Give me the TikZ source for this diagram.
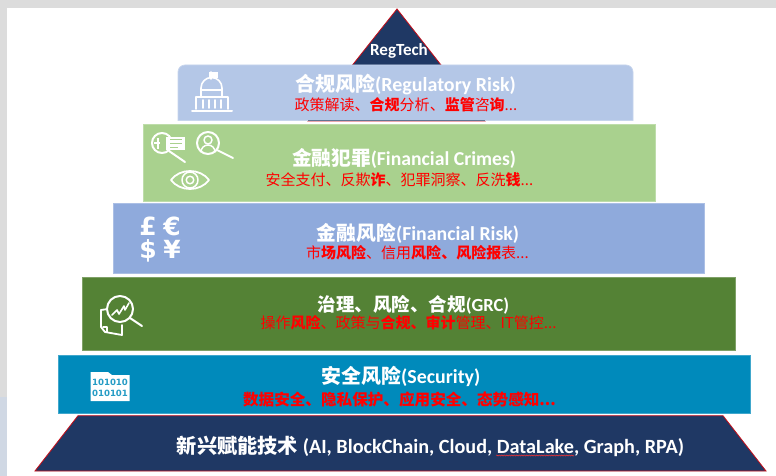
\documentclass[tikz,border=0pt]{standalone}
\usepackage{fontspec}
\usetikzlibrary{decorations.pathmorphing}
\setmainfont{Carlito}
\newfontfamily\zhf{Noto Sans CJK SC}
\newfontfamily\binf{DejaVu Sans}
\newcommand{\zh}[1]{{\zhf #1}}
\newcommand{\zb}[1]{{\zhf\bfseries #1}}
\definecolor{navy}{HTML}{1F3864}
\definecolor{regc}{HTML}{B4C7E7}
\definecolor{crimec}{HTML}{A9D18E}
\definecolor{finc}{HTML}{8FAADC}
\definecolor{grcc}{HTML}{548235}
\definecolor{secc}{HTML}{008ABB}
\definecolor{gstrip}{HTML}{DCDCDC}
\definecolor{bstrip}{HTML}{D0D8E4}
\tikzset{
  band/.style={draw=#1!75!white,line width=.7pt,fill=#1},
  head/.style={text=white,font=\fontsize{#1}{#1}\selectfont\bfseries,inner sep=0pt,anchor=center},
  sub/.style={text=red,font=\fontsize{#1}{#1}\selectfont,inner sep=0pt,anchor=center},
  icon/.style={draw=white,line width=1.6pt,line cap=round,line join=round},
  cur/.style={text=white,font=\fontsize{25}{25}\selectfont\binf\bfseries,inner sep=0pt,text height=17pt,text depth=1pt},
  bin/.style={text=secc!85!white,font=\fontsize{8.6}{9}\selectfont\binf\bfseries,inner sep=0pt},
}
\begin{document}
\begin{tikzpicture}[x=1pt,y=-1pt]
\useasboundingbox (0,0) rectangle (776,476);
\fill[white] (0,0) rectangle (776,476);
\fill[gstrip] (0,0) rectangle (776,8);
\fill[gstrip] (0,0) rectangle (7,397);
\fill[bstrip] (0,397) rectangle (7,476);
% top triangle
\draw[fill=navy,draw=red!75!navy,line width=.8pt] (397,9) -- (485,121) -- (308,121) -- cycle;
\node[head=17] (regtech) at (399,51) {RegTech};
% bands
\path[band=regc] (178,120.5) -- (178,72) arc[start angle=180,end angle=270,radius=7] -- (626,65) arc[start angle=270,end angle=360,radius=7] -- (633,120.5) -- cycle;
\draw[navy!70!white,line width=.8pt] (308,120.7) -- (485,120.7);
\path[band=crimec] (143.5,124) rectangle (655,201);
\path[band=finc] (113,203.5) rectangle (704.5,273);
\path[band=grcc] (82,277) rectangle (735.5,350.5);
\path[band=secc] (58,355) rectangle (750,413);
\draw[fill=navy,draw=red!75!navy,line width=.8pt] (78,415.7) -- (723,415.7) -- (766,471) -- (35,471) -- cycle;
% texts
\node[head=20] (r1) at (405.5,85) {\zb{合规风险}(Regulatory Risk)};
\node[sub=15] (r2) at (406,104.5) {\zh{政策解读、}\zb{合规}\zh{分析、}\zb{监管}\zh{咨}\zb{询}\zh{...}};
\node[head=19.7] (c1) at (404,158) {\zb{金融犯罪}(Financial Crimes)};
\node[sub=15] (c2) at (399.5,180) {\zh{安全支付、反欺}\zb{诈}\zh{、犯罪洞察、反洗}\zb{钱}\zh{...}};
\node[head=19.8] (f1) at (418,233) {\zb{金融风险}(Financial Risk)};
\node[sub=15] (f2) at (417.5,253) {\zh{市}\zb{场风险}\zh{、信用}\zb{风险、风险报}\zh{表...}};
\node[head=18.5] (g1) at (413.5,305) {\zb{治理、风险、合规}(GRC)};
\node[sub=15] (g2) at (408.5,323) {\zh{操作}\zb{风险}\zh{、政策与}\zb{合规、审计}\zh{管理、IT管控...}};
\node[head=19.9] (s1) at (401,376) {\zb{安全风险}(Security)};
\node[sub=15.6] (s2) at (399.5,400) {\zb{数据安全、隐私保护、应用安全、态势感知...}};
\node[head=20.2] (t1) at (430.5,446) {\zb{新兴赋能技术} (AI, BlockChain, Cloud, DataLake, Graph, RPA)};
\draw[red!80!white,line width=.5pt,decorate,decoration={snake,amplitude=.6pt,segment length=2.5pt}] (496,455.5) -- (574,455.5);
% building icon
\draw[icon,line width=2pt] (192,111) -- (232,111);
\draw[icon] (196,109) -- (196,97) -- (228,97) -- (228,109);
\draw[icon,line width=1.8pt] (203,100) -- (203,108) (209,100) -- (209,108) (215,100) -- (215,108) (221,100) -- (221,108);
\draw[icon] (201,96) -- (201,88) arc[start angle=180,end angle=360,radius=10.5] -- (222,96);
\draw[icon,line width=1.2pt] (201,90) -- (222,90);
\fill[white] (209,72) rectangle (218,78);
\draw[icon] (211,72) -- (211,79);
% magnifier with hand
\draw[icon,line width=2pt] (162,143) circle[radius=10];
\draw[icon,line width=2pt] (169,151) -- (185,162);
\fill[white] (166,137) rectangle (185,150);
\draw[crimec,line width=1pt] (170,139.5) -- (182,139.5) (170,143.5) -- (182,143.5) (170,147.5) -- (178,147.5);
\fill[crimec] (160,140) rectangle (166,146);
\draw[white,line width=1.4pt] (154,143) -- (160,143) (158,138) -- (158,149);
% magnifier with person
\draw[icon,line width=2pt] (208,143) circle[radius=11];
\draw[icon,line width=2pt] (217,150) -- (233,158);
\draw[icon,line width=1.5pt] (208,140) circle[radius=4];
\draw[icon,line width=1.5pt] (201,152) arc[start angle=180,end angle=360,radius=7];
% eye
\draw[icon,line width=1.8pt] (171,180) .. controls (180,168) and (200,168) .. (209,180) .. controls (200,192) and (180,192) .. (171,180) -- cycle;
\draw[icon,line width=1.5pt] (190,180) circle[radius=8];
\draw[icon,line width=1.5pt] (190,180) circle[radius=3.8];
% currency
\node[cur] (cp) at (148,227) {£};
\node[cur] (ce) at (172,227) {€};
\node[cur] (cd) at (148,250) {\$};
\node[cur] (cy) at (172,250) {¥};
% chart magnifier
\draw[icon,line width=1.8pt] (101,310) -- (101,327) -- (105,332) -- (122,335) -- (122,325);
\draw[icon,line width=1.8pt] (101,310) -- (108,309);
\draw[icon,line width=1.4pt] (107,332) -- (107,327) -- (103,327);
\draw[icon,fill=grcc,line width=2pt] (120,309) circle[radius=13];
\draw[icon,line width=2pt] (130,318) -- (142,326);
\draw[icon,line width=1.6pt] (112,315) -- (117,310) -- (119,314) -- (124,306) -- (125,310) -- (129,303);
% binary
\fill[white] (90.5,372) -- (108,372) -- (112,375) -- (129.5,375) -- (129.5,401) -- (90.5,401) -- cycle;
\node[bin] (b1) at (110,382.5) {101010};
\node[bin] (b2) at (110,393.5) {010101};
\end{tikzpicture}
\end{document}
